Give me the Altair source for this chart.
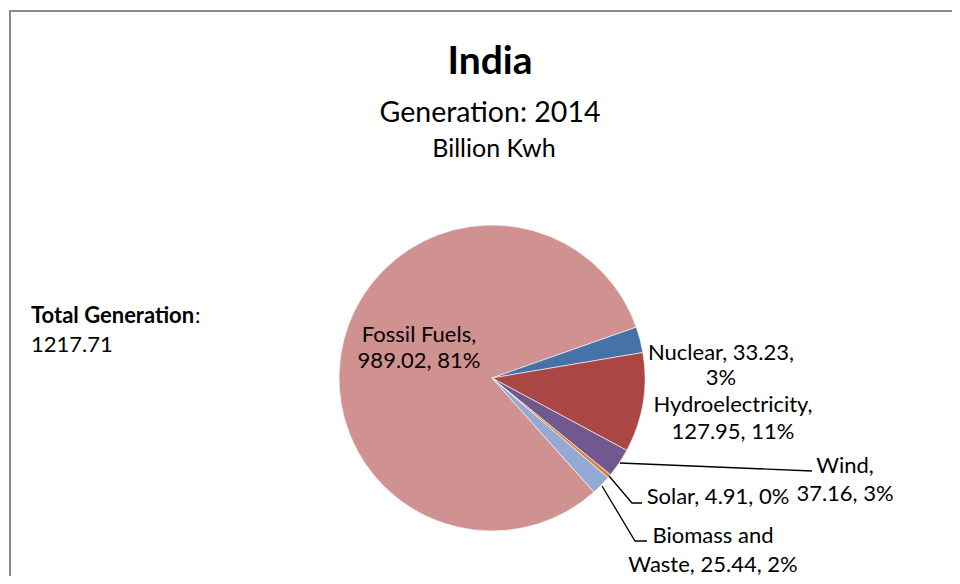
import math
import altair as alt
import pandas as pd

# ---- data ----
sources = ["Fossil Fuels", "Nuclear", "Hydroelectricity", "Wind", "Solar", "Biomass and Waste"]
values = [989.02, 33.23, 127.95, 37.16, 4.91, 25.44]
percents = ["81%", "3%", "11%", "3%", "0%", "2%"]
title_text = "India"
subtitle_lines = ["Generation: 2014", "Billion Kwh"]

# ---- styling / layout (kept separate from the data) ----
colors = ["#D09291", "#4572A7", "#AA4643", "#71588F", "#DB843D", "#94AAD2"]
FONT = "Lato"
W, H = 944, 568
CX, CY, R = 484, 370, 153
START = 2.412  # radians, clockwise from 12 o'clock

# words on first label line, label centre x, first baseline y, line height
wrap_words = [2, 2, 1, 1, 4, 2]
label_cx = [411, 713, 725, 837, 710, 705]
label_y0 = [334, 352, 404, 465, 496, 535]
label_lh = [26, 25, 27, 28, 0, 29]

# leader lines (Wind, Solar, Biomass) in pixel coordinates
leaders = {
    "Wind": [(612, 455), (804, 463)],
    "Solar": [(601, 468), (624, 495), (634, 495)],
    "Biomass and Waste": [(594, 478), (627, 533), (639, 533)],
}

pie_df = pd.DataFrame({"source": sources, "value": values, "order": list(range(len(sources)))})

pie = alt.Chart(pie_df).mark_arc(
    x=CX, y=CY, outerRadius=R, stroke="#ffffff", strokeWidth=0.6
).encode(
    theta=alt.Theta("value:Q", stack=True, scale=alt.Scale(range=[START, START + 2 * math.pi])),
    color=alt.Color("source:N", scale=alt.Scale(domain=sources, range=colors), legend=None),
    order=alt.Order("order:Q"),
)

# data labels
rows = []
for i, (s, v, p) in enumerate(zip(sources, values, percents)):
    words = f"{s}, {v:.2f}, {p}".split(" ")
    k = wrap_words[i]
    lines = [" ".join(words[:k])]
    if k < len(words):
        lines.append(" ".join(words[k:]))
    for j, ln in enumerate(lines):
        rows.append({"x": label_cx[i], "y": label_y0[i] + j * label_lh[i], "text": ln})
lab_df = pd.DataFrame(rows)

labels = alt.Chart(lab_df).mark_text(
    font=FONT, fontSize=22, align="center", baseline="alphabetic", color="#000000"
).encode(x=alt.X("x:Q", scale=None), y=alt.Y("y:Q", scale=None), text="text:N")

lrows = []
for name, pts in leaders.items():
    for k, (px, py) in enumerate(pts):
        lrows.append({"id": name, "k": k, "x": px, "y": py})
lead_df = pd.DataFrame(lrows)
leader_lines = alt.Chart(lead_df).mark_line(color="#000000", strokeWidth=1.3).encode(
    x=alt.X("x:Q", scale=None), y=alt.Y("y:Q", scale=None),
    detail="id:N", order="k:Q",
)

# titles
title_df = pd.DataFrame({"x": [482], "y": [66], "text": [title_text]})
title = alt.Chart(title_df).mark_text(
    font=FONT, fontSize=39, fontWeight="bold", align="center", baseline="alphabetic", color="#000000"
).encode(x=alt.X("x:Q", scale=None), y=alt.Y("y:Q", scale=None), text="text:N")

sub_df = pd.DataFrame({"x": [482, 486], "y": [114, 149], "text": subtitle_lines, "size": [28.5, 25]})
subtitle = alt.Chart(sub_df).mark_text(
    font=FONT, align="center", baseline="alphabetic", color="#000000"
).encode(
    x=alt.X("x:Q", scale=None), y=alt.Y("y:Q", scale=None), text="text:N",
    size=alt.Size("size:Q", scale=None, legend=None),
)

# total generation annotation
total = sum(values)
tot_bold = alt.Chart(pd.DataFrame({"x": [23], "y": [315], "text": ["Total Generation"]})).mark_text(
    font=FONT, fontSize=22, fontWeight="bold", align="left", baseline="alphabetic", color="#000000"
).encode(x=alt.X("x:Q", scale=None), y=alt.Y("y:Q", scale=None), text="text:N")
tot_rest = alt.Chart(pd.DataFrame({"x": [187, 23], "y": [315, 344], "text": [":", f"{total:.2f}"]})).mark_text(
    font=FONT, fontSize=22, align="left", baseline="alphabetic", color="#000000"
).encode(x=alt.X("x:Q", scale=None), y=alt.Y("y:Q", scale=None), text="text:N")

# chart border (left and top edges visible) as one polyline
border_df = pd.DataFrame({"k": [0, 1, 2], "x": [2, 2, W + 20], "y": [H + 20, 3, 3]})
border = alt.Chart(border_df).mark_line(color="#8C8C8C", strokeWidth=2, clip=False).encode(
    x=alt.X("x:Q", scale=None), y=alt.Y("y:Q", scale=None), order="k:Q"
)

chart = alt.layer(
    border, pie, leader_lines, labels, title, subtitle, tot_bold, tot_rest
).properties(
    width=W, height=H, autosize=alt.AutoSizeParams(type="none"), padding=0, background="#ffffff"
).configure_view(strokeWidth=0)

chart.save("out.html", embed_options={"renderer": "svg", "actions": False})
